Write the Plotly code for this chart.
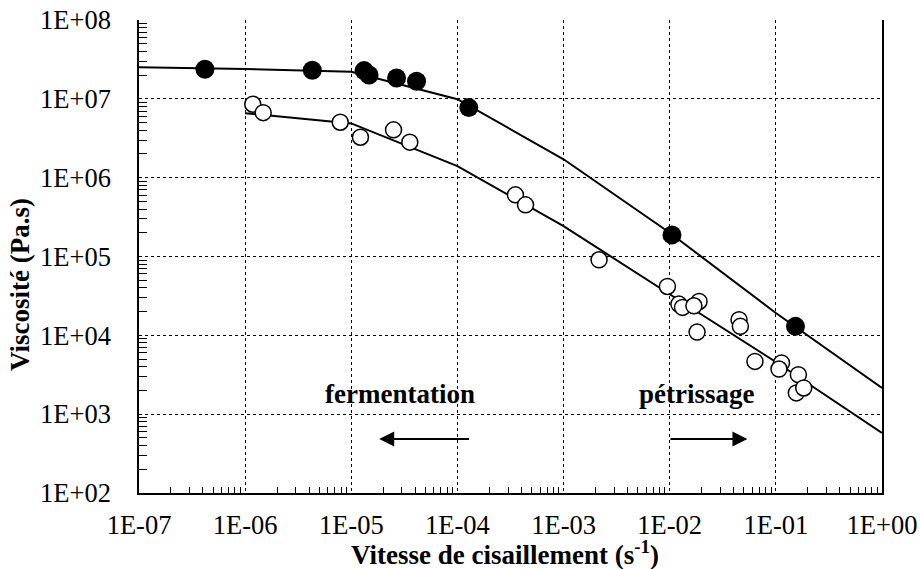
import plotly.graph_objects as go

# ---- data ----
filled_x = [4.18e-7, 4.29e-6, 1.32e-5, 1.47e-5, 2.67e-5, 4.12e-5, 1.28e-4, 1.05e-2, 0.153]
filled_y = [2.37e7, 2.30e7, 2.28e7, 2.01e7, 1.84e7, 1.67e7, 7.74e6, 1.88e5, 1.30e4]

open_x = [1.18e-6, 1.48e-6, 7.87e-6, 1.22e-5, 2.50e-5, 3.56e-5, 3.52e-4, 4.38e-4,
          2.16e-3, 9.51e-3, 1.22e-2, 1.32e-2, 1.89e-2, 1.69e-2, 1.81e-2, 4.50e-2,
          4.63e-2, 6.35e-2, 0.113, 0.107, 0.163, 0.156, 0.183]
open_y = [8.55e6, 6.68e6, 5.05e6, 3.26e6, 4.04e6, 2.82e6, 6.05e5, 4.52e5,
          9.08e4, 4.17e4, 2.49e4, 2.26e4, 2.69e4, 2.37e4, 1.10e4, 1.58e4,
          1.30e4, 4.67e3, 4.46e3, 3.74e3, 3.17e3, 1.86e3, 2.15e3]

fit1_x = [1e-7, 1e-6, 1e-5, 1e-4, 1e-3, 1e-2, 1e-1, 1e0]
fit1_y = [2.51e7, 2.39e7, 2.21e7, 9.89e6, 1.71e6, 2.00e5, 1.92e4, 2.15e3]

fit2_x = [1e-6, 1e-5, 1e-4, 1e-3, 1e-2, 1e-1, 1e0]
fit2_y = [6.56e6, 4.88e6, 1.40e6, 2.43e5, 3.32e4, 4.59e3, 578]

x_tickvals = [1e-7, 1e-6, 1e-5, 1e-4, 1e-3, 1e-2, 1e-1, 1e0]
x_ticktext = ["1E-07", "1E-06", "1E-05", "1E-04", "1E-03", "1E-02", "1E-01", "1E+00"]
y_tickvals = [1e2, 1e3, 1e4, 1e5, 1e6, 1e7, 1e8]
y_ticktext = ["1E+02", "1E+03", "1E+04", "1E+05", "1E+06", "1E+07", "1E+08"]

x_title = "<b>Vitesse de cisaillement (s<sup>-1</sup>)</b>"
y_title = "<b>Viscosité (Pa.s)</b>"
label_ferm = "<b>fermentation</b>"
label_petr = "<b>pétrissage</b>"

FONT = "Liberation Serif"
FS = 26.5
FS_T = 27

x_minor = [m * 10.0 ** e for e in range(-7, 0) for m in range(2, 10)]
y_minor = [m * 10.0 ** e for e in range(2, 8) for m in range(2, 10)]

fig = go.Figure()
fig.add_trace(go.Scatter(x=fit1_x, y=fit1_y, mode="lines",
                         line=dict(color="black", width=2), showlegend=False))
fig.add_trace(go.Scatter(x=fit2_x, y=fit2_y, mode="lines",
                         line=dict(color="black", width=2), showlegend=False))
fig.add_trace(go.Scatter(x=open_x, y=open_y, mode="markers",
                         marker=dict(size=16, color="white", line=dict(color="black", width=1.5)),
                         showlegend=False))
fig.add_trace(go.Scatter(x=filled_x, y=filled_y, mode="markers",
                         marker=dict(size=19, color="black", line=dict(color="black", width=0)),
                         showlegend=False))

fig.update_layout(
    width=920, height=569,
    margin=dict(l=139, r=37.5, t=20, b=75.7, autoexpand=False),
    paper_bgcolor="white", plot_bgcolor="white",
    font=dict(family=FONT, size=FS, color="black"),
    showlegend=False,
)
fig.update_xaxes(
    type="log", range=[-7, 0], automargin=False,
    tickmode="array", tickvals=x_tickvals, ticktext=x_ticktext,
    ticks="", ticklabelstandoff=7, ticklabeloverflow="allow",
    showline=True, linecolor="black", linewidth=1.5, mirror=False,
    showgrid=True, gridcolor="black", gridwidth=1, griddash="dot",
    zeroline=False,
    minor=dict(tickmode="array", tickvals=x_minor, ticks="inside",
               ticklen=6, tickwidth=1, tickcolor="black", showgrid=False),
    tickfont=dict(family=FONT, size=FS),
)
fig.update_yaxes(
    type="log", range=[2, 8], automargin=False,
    tickmode="array", tickvals=y_tickvals, ticktext=y_ticktext,
    ticks="", ticklabelstandoff=21, ticklabeloverflow="allow",
    showline=True, linecolor="black", linewidth=1.5, mirror=True,
    showgrid=True, gridcolor="black", gridwidth=1, griddash="dot",
    zeroline=False,
    minor=dict(tickmode="array", tickvals=y_minor, ticks="inside",
               ticklen=8, tickwidth=1, tickcolor="black", showgrid=False),
    tickfont=dict(family=FONT, size=FS),
)

annos = [
    dict(text=x_title, xref="paper", yref="paper", x=0.492, y=-0.126,
         xanchor="center", yanchor="middle", showarrow=False,
         font=dict(family=FONT, size=FS_T)),
    dict(text=y_title, xref="paper", yref="paper", x=-0.160, y=0.440,
         xanchor="center", yanchor="middle", textangle=-90, showarrow=False,
         font=dict(family=FONT, size=FS_T)),
    dict(text=label_ferm, xref="x", yref="y", x=-4.542, y=3.257,
         xanchor="center", yanchor="middle", showarrow=False,
         font=dict(family=FONT, size=FS_T)),
    dict(text=label_petr, xref="x", yref="y", x=-1.752, y=3.257,
         xanchor="center", yanchor="middle", showarrow=False,
         font=dict(family=FONT, size=FS_T)),
    dict(text="", xref="x", yref="y", x=-4.737, y=2.686,
         axref="x", ayref="y", ax=-3.877, ay=2.686,
         showarrow=True, arrowhead=2, arrowsize=1.5, arrowwidth=2,
         arrowcolor="black", standoff=0),
    dict(text="", xref="x", yref="y", x=-1.268, y=2.686,
         axref="x", ayref="y", ax=-2.007, ay=2.686,
         showarrow=True, arrowhead=2, arrowsize=1.5, arrowwidth=2,
         arrowcolor="black", standoff=0),
]
fig.update_layout(annotations=annos)

# remove the default 8px page margin so the figure fills the window exactly
fig.write_html("out.html", config={"displayModeBar": False},
               post_script="document.body.style.margin='0px';")
